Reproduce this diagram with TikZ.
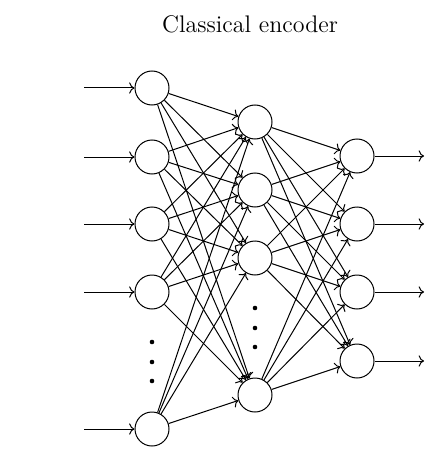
\documentclass[tikz,border=0pt]{standalone}
\usetikzlibrary{arrows.meta}
\begin{document}
\begin{tikzpicture}[x=0.5pt,y=-0.5pt,
  neuron/.style={circle,draw,line width=0.5pt,minimum size=17pt,inner sep=0pt},
  conn/.style={->,line width=0.5pt},
  dotmark/.style={circle,fill=black,inner sep=0pt,minimum size=2.3pt}]
\useasboundingbox (0,0) rectangle (439,465);
\node (title) at (250,24) {\large Classical encoder};
% layer 1
\node[neuron] (a1) at (152,88) {};
\node[neuron] (a2) at (152,157) {};
\node[neuron] (a3) at (152,224) {};
\node[neuron] (a4) at (152,292) {};
\node[neuron] (a5) at (152,429) {};
\node[dotmark] (ad1) at (152,342) {};
\node[dotmark] (ad2) at (152,362) {};
\node[dotmark] (ad3) at (152,381) {};
% layer 2
\node[neuron] (b1) at (255,122) {};
\node[neuron] (b2) at (255,190) {};
\node[neuron] (b3) at (255,258) {};
\node[neuron] (b4) at (255,395) {};
\node[dotmark] (bd1) at (255,308) {};
\node[dotmark] (bd2) at (255,328) {};
\node[dotmark] (bd3) at (255,347) {};
% layer 3
\node[neuron] (c1) at (357,156) {};
\node[neuron] (c2) at (357,224) {};
\node[neuron] (c3) at (357,292) {};
\node[neuron] (c4) at (357,361) {};
% inputs
\foreach \i/\y in {1/88,2/157,3/224,4/292,5/429}{
  \coordinate (in\i) at (84,\y);
  \draw[conn] (in\i) -- (a\i);
}
% outputs
\foreach \i/\y in {1/156,2/224,3/292,4/361}{
  \coordinate (out\i) at (424,\y);
  \draw[conn] (c\i) -- (out\i);
}
% connections
\foreach \i in {1,...,5}{
  \foreach \j in {1,...,4}{
    \draw[conn] (a\i) -- (b\j);
  }
}
\foreach \i in {1,...,4}{
  \foreach \j in {1,...,4}{
    \draw[conn] (b\i) -- (c\j);
  }
}
\end{tikzpicture}
\end{document}
